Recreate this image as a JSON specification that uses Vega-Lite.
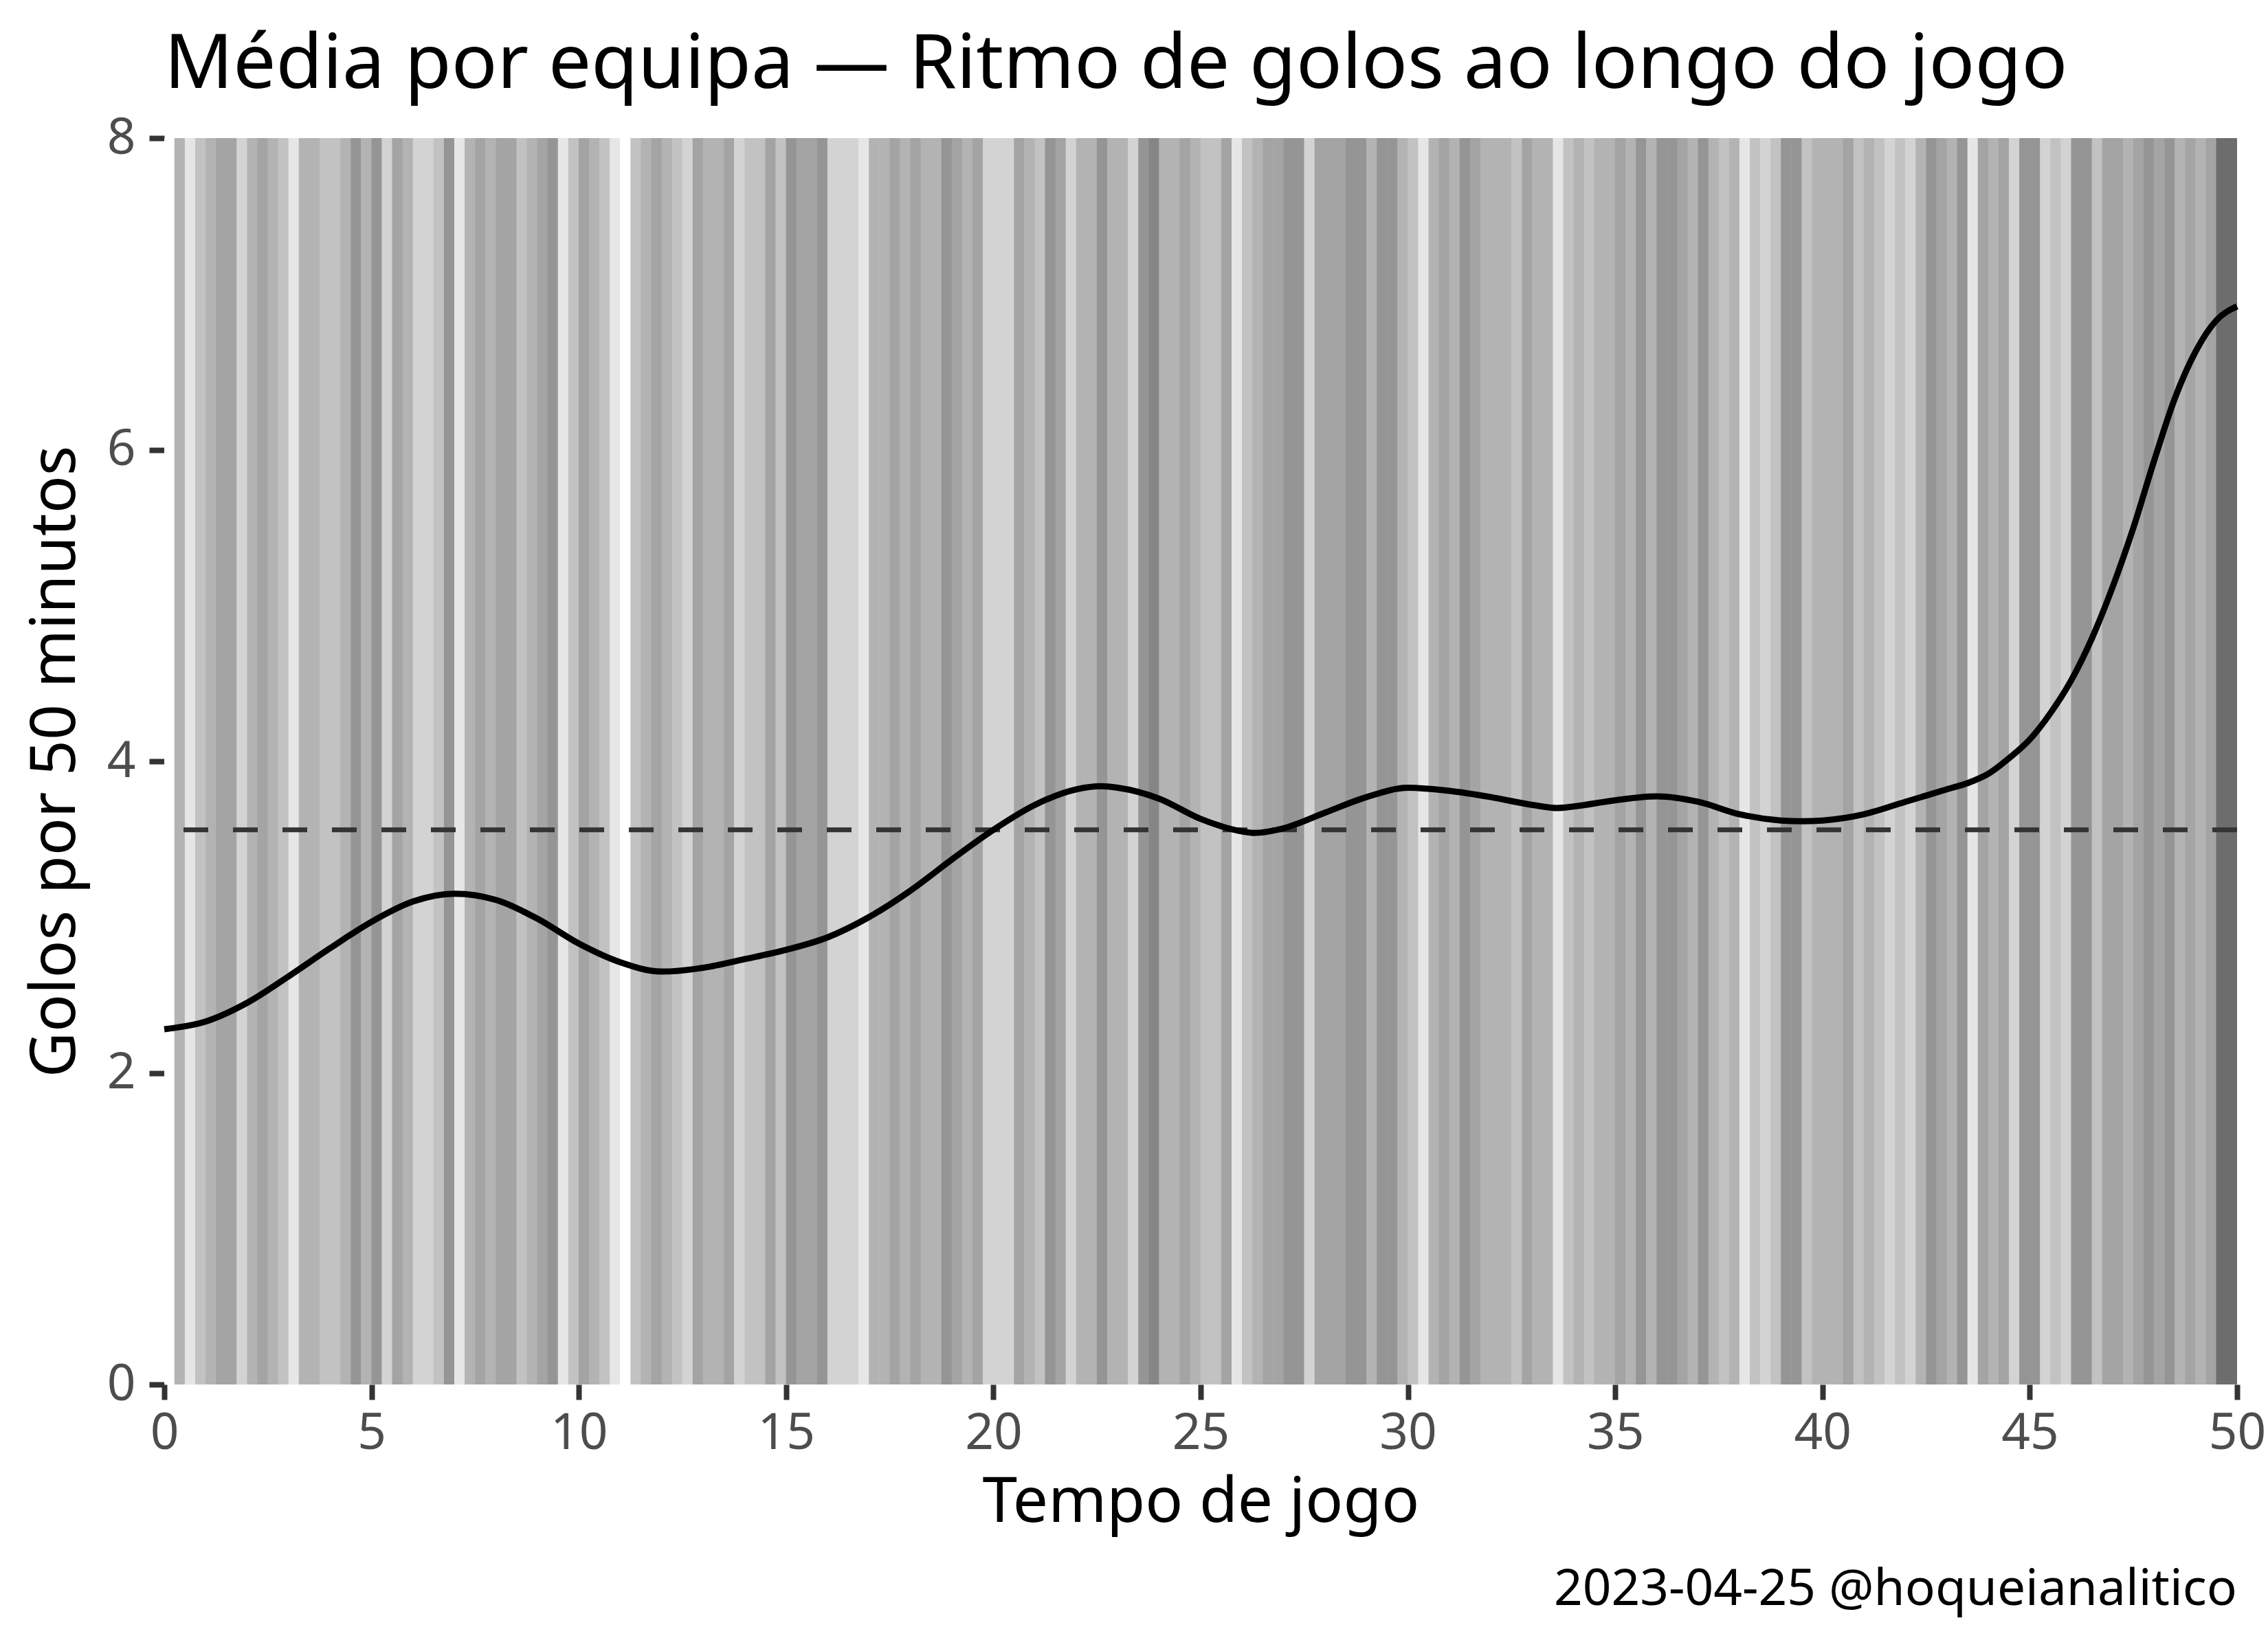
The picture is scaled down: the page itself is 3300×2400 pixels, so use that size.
{
  "$schema": "https://vega.github.io/schema/vega-lite/v6.json",
  "background": "white",
  "padding": {"left": 35, "top": 39, "right": 30, "bottom": 45},
  "config": {
    "font": "Noto Sans",
    "view": {"stroke": null},
    "axis": {
      "grid": false,
      "domain": false,
      "labelFlush": false,
      "tickColor": "#333333",
      "tickWidth": 8,
      "tickSize": 22,
      "labelFont": "Noto Sans",
      "labelFontSize": 73,
      "labelColor": "#4D4D4D",
      "titleFont": "Noto Sans",
      "titleFontSize": 91,
      "titleFontWeight": "normal",
      "titleColor": "#000000",
      "format": "d"
    },
    "axisX": {"labelPadding": 13, "titlePadding": 19},
    "axisY": {"labelPadding": 20, "titlePadding": 28}
  },
  "datasets": {
    "faixas": [
      {"minuto": 0.125, "golos": 0}, {"minuto": 0.375, "golos": 4}, {"minuto": 0.625, "golos": 1}, {"minuto": 0.875, "golos": 3},
      {"minuto": 1.125, "golos": 4}, {"minuto": 1.375, "golos": 5}, {"minuto": 1.625, "golos": 5}, {"minuto": 1.875, "golos": 2},
      {"minuto": 2.125, "golos": 4}, {"minuto": 2.375, "golos": 5}, {"minuto": 2.625, "golos": 4}, {"minuto": 2.875, "golos": 3},
      {"minuto": 3.125, "golos": 1}, {"minuto": 3.375, "golos": 4}, {"minuto": 3.625, "golos": 4}, {"minuto": 3.875, "golos": 3},
      {"minuto": 4.125, "golos": 3}, {"minuto": 4.375, "golos": 4}, {"minuto": 4.625, "golos": 6}, {"minuto": 4.875, "golos": 4},
      {"minuto": 5.125, "golos": 6}, {"minuto": 5.375, "golos": 2}, {"minuto": 5.625, "golos": 5}, {"minuto": 5.875, "golos": 4},
      {"minuto": 6.125, "golos": 2}, {"minuto": 6.375, "golos": 2}, {"minuto": 6.625, "golos": 3}, {"minuto": 6.875, "golos": 6},
      {"minuto": 7.125, "golos": 1}, {"minuto": 7.375, "golos": 4}, {"minuto": 7.625, "golos": 5}, {"minuto": 7.875, "golos": 4},
      {"minuto": 8.125, "golos": 5}, {"minuto": 8.375, "golos": 5}, {"minuto": 8.625, "golos": 3}, {"minuto": 8.875, "golos": 4},
      {"minuto": 9.125, "golos": 5}, {"minuto": 9.375, "golos": 6}, {"minuto": 9.625, "golos": 1}, {"minuto": 9.875, "golos": 3},
      {"minuto": 10.125, "golos": 5}, {"minuto": 10.375, "golos": 4}, {"minuto": 10.625, "golos": 3}, {"minuto": 10.875, "golos": 1},
      {"minuto": 11.125, "golos": 0}, {"minuto": 11.375, "golos": 3}, {"minuto": 11.625, "golos": 4}, {"minuto": 11.875, "golos": 5},
      {"minuto": 12.125, "golos": 4}, {"minuto": 12.375, "golos": 3}, {"minuto": 12.625, "golos": 2}, {"minuto": 12.875, "golos": 5},
      {"minuto": 13.125, "golos": 4}, {"minuto": 13.375, "golos": 4}, {"minuto": 13.625, "golos": 5}, {"minuto": 13.875, "golos": 2},
      {"minuto": 14.125, "golos": 3}, {"minuto": 14.375, "golos": 3}, {"minuto": 14.625, "golos": 5}, {"minuto": 14.875, "golos": 3},
      {"minuto": 15.125, "golos": 6}, {"minuto": 15.375, "golos": 5}, {"minuto": 15.625, "golos": 5}, {"minuto": 15.875, "golos": 6},
      {"minuto": 16.125, "golos": 2}, {"minuto": 16.375, "golos": 2}, {"minuto": 16.625, "golos": 2}, {"minuto": 16.875, "golos": 1},
      {"minuto": 17.125, "golos": 4}, {"minuto": 17.375, "golos": 4}, {"minuto": 17.625, "golos": 5}, {"minuto": 17.875, "golos": 4},
      {"minuto": 18.125, "golos": 5}, {"minuto": 18.375, "golos": 4}, {"minuto": 18.625, "golos": 4}, {"minuto": 18.875, "golos": 6},
      {"minuto": 19.125, "golos": 5}, {"minuto": 19.375, "golos": 4}, {"minuto": 19.625, "golos": 5}, {"minuto": 19.875, "golos": 2},
      {"minuto": 20.125, "golos": 2}, {"minuto": 20.375, "golos": 2}, {"minuto": 20.625, "golos": 5}, {"minuto": 20.875, "golos": 4},
      {"minuto": 21.125, "golos": 3}, {"minuto": 21.375, "golos": 6}, {"minuto": 21.625, "golos": 5}, {"minuto": 21.875, "golos": 2},
      {"minuto": 22.125, "golos": 4}, {"minuto": 22.375, "golos": 4}, {"minuto": 22.625, "golos": 6}, {"minuto": 22.875, "golos": 4},
      {"minuto": 23.125, "golos": 4}, {"minuto": 23.375, "golos": 2}, {"minuto": 23.625, "golos": 6}, {"minuto": 23.875, "golos": 7},
      {"minuto": 24.125, "golos": 4}, {"minuto": 24.375, "golos": 4}, {"minuto": 24.625, "golos": 5}, {"minuto": 24.875, "golos": 4},
      {"minuto": 25.125, "golos": 3}, {"minuto": 25.375, "golos": 3}, {"minuto": 25.625, "golos": 5}, {"minuto": 25.875, "golos": 1},
      {"minuto": 26.125, "golos": 3}, {"minuto": 26.375, "golos": 4}, {"minuto": 26.625, "golos": 5}, {"minuto": 26.875, "golos": 5},
      {"minuto": 27.125, "golos": 6}, {"minuto": 27.375, "golos": 6}, {"minuto": 27.625, "golos": 2}, {"minuto": 27.875, "golos": 5},
      {"minuto": 28.125, "golos": 5}, {"minuto": 28.375, "golos": 5}, {"minuto": 28.625, "golos": 6}, {"minuto": 28.875, "golos": 6},
      {"minuto": 29.125, "golos": 4}, {"minuto": 29.375, "golos": 6}, {"minuto": 29.625, "golos": 6}, {"minuto": 29.875, "golos": 4},
      {"minuto": 30.125, "golos": 3}, {"minuto": 30.375, "golos": 1}, {"minuto": 30.625, "golos": 4}, {"minuto": 30.875, "golos": 5},
      {"minuto": 31.125, "golos": 4}, {"minuto": 31.375, "golos": 6}, {"minuto": 31.625, "golos": 5}, {"minuto": 31.875, "golos": 4},
      {"minuto": 32.125, "golos": 4}, {"minuto": 32.375, "golos": 4}, {"minuto": 32.625, "golos": 3}, {"minuto": 32.875, "golos": 5},
      {"minuto": 33.125, "golos": 4}, {"minuto": 33.375, "golos": 4}, {"minuto": 33.625, "golos": 1}, {"minuto": 33.875, "golos": 3},
      {"minuto": 34.125, "golos": 4}, {"minuto": 34.375, "golos": 3}, {"minuto": 34.625, "golos": 4}, {"minuto": 34.875, "golos": 4},
      {"minuto": 35.125, "golos": 5}, {"minuto": 35.375, "golos": 4}, {"minuto": 35.625, "golos": 6}, {"minuto": 35.875, "golos": 4},
      {"minuto": 36.125, "golos": 6}, {"minuto": 36.375, "golos": 6}, {"minuto": 36.625, "golos": 5}, {"minuto": 36.875, "golos": 4},
      {"minuto": 37.125, "golos": 6}, {"minuto": 37.375, "golos": 4}, {"minuto": 37.625, "golos": 3}, {"minuto": 37.875, "golos": 4},
      {"minuto": 38.125, "golos": 1}, {"minuto": 38.375, "golos": 3}, {"minuto": 38.625, "golos": 2}, {"minuto": 38.875, "golos": 3},
      {"minuto": 39.125, "golos": 6}, {"minuto": 39.375, "golos": 6}, {"minuto": 39.625, "golos": 3}, {"minuto": 39.875, "golos": 4},
      {"minuto": 40.125, "golos": 4}, {"minuto": 40.375, "golos": 4}, {"minuto": 40.625, "golos": 5}, {"minuto": 40.875, "golos": 3},
      {"minuto": 41.125, "golos": 4}, {"minuto": 41.375, "golos": 3}, {"minuto": 41.625, "golos": 2}, {"minuto": 41.875, "golos": 3},
      {"minuto": 42.125, "golos": 2}, {"minuto": 42.375, "golos": 4}, {"minuto": 42.625, "golos": 6}, {"minuto": 42.875, "golos": 5},
      {"minuto": 43.125, "golos": 4}, {"minuto": 43.375, "golos": 6}, {"minuto": 43.625, "golos": 1}, {"minuto": 43.875, "golos": 5},
      {"minuto": 44.125, "golos": 4}, {"minuto": 44.375, "golos": 5}, {"minuto": 44.625, "golos": 2}, {"minuto": 44.875, "golos": 6},
      {"minuto": 45.125, "golos": 6}, {"minuto": 45.375, "golos": 2}, {"minuto": 45.625, "golos": 3}, {"minuto": 45.875, "golos": 2},
      {"minuto": 46.125, "golos": 6}, {"minuto": 46.375, "golos": 6}, {"minuto": 46.625, "golos": 3}, {"minuto": 46.875, "golos": 5},
      {"minuto": 47.125, "golos": 5}, {"minuto": 47.375, "golos": 4}, {"minuto": 47.625, "golos": 5}, {"minuto": 47.875, "golos": 6},
      {"minuto": 48.125, "golos": 5}, {"minuto": 48.375, "golos": 6}, {"minuto": 48.625, "golos": 4}, {"minuto": 48.875, "golos": 5},
      {"minuto": 49.125, "golos": 4}, {"minuto": 49.375, "golos": 5}, {"minuto": 49.625, "golos": 8}, {"minuto": 49.875, "golos": 8}
    ],
    "curva": [
      {"minuto": 0, "ritmo": 2.28}, {"minuto": 1, "ritmo": 2.33}, {"minuto": 2, "ritmo": 2.45}, {"minuto": 3, "ritmo": 2.62},
      {"minuto": 4, "ritmo": 2.8}, {"minuto": 5, "ritmo": 2.97}, {"minuto": 6, "ritmo": 3.1}, {"minuto": 7, "ritmo": 3.15},
      {"minuto": 8, "ritmo": 3.11}, {"minuto": 9, "ritmo": 2.99}, {"minuto": 10, "ritmo": 2.83}, {"minuto": 11, "ritmo": 2.71},
      {"minuto": 12, "ritmo": 2.65}, {"minuto": 13, "ritmo": 2.675}, {"minuto": 14, "ritmo": 2.73}, {"minuto": 15, "ritmo": 2.79},
      {"minuto": 16, "ritmo": 2.87}, {"minuto": 17, "ritmo": 3.0}, {"minuto": 18, "ritmo": 3.17}, {"minuto": 19, "ritmo": 3.37},
      {"minuto": 20, "ritmo": 3.56}, {"minuto": 21, "ritmo": 3.72}, {"minuto": 22, "ritmo": 3.82}, {"minuto": 22.6, "ritmo": 3.84},
      {"minuto": 23, "ritmo": 3.83}, {"minuto": 24, "ritmo": 3.76}, {"minuto": 25, "ritmo": 3.63}, {"minuto": 26, "ritmo": 3.55},
      {"minuto": 26.3, "ritmo": 3.54}, {"minuto": 27, "ritmo": 3.57}, {"minuto": 28, "ritmo": 3.67}, {"minuto": 29, "ritmo": 3.77},
      {"minuto": 30, "ritmo": 3.83}, {"minuto": 31, "ritmo": 3.81}, {"minuto": 32, "ritmo": 3.77}, {"minuto": 33, "ritmo": 3.72},
      {"minuto": 33.6, "ritmo": 3.7}, {"minuto": 34, "ritmo": 3.71}, {"minuto": 35, "ritmo": 3.75}, {"minuto": 36, "ritmo": 3.775},
      {"minuto": 37, "ritmo": 3.74}, {"minuto": 38, "ritmo": 3.66}, {"minuto": 39, "ritmo": 3.62}, {"minuto": 39.5, "ritmo": 3.615},
      {"minuto": 40, "ritmo": 3.62}, {"minuto": 41, "ritmo": 3.66}, {"minuto": 42, "ritmo": 3.74}, {"minuto": 43, "ritmo": 3.82},
      {"minuto": 43.5, "ritmo": 3.86}, {"minuto": 44, "ritmo": 3.92}, {"minuto": 44.5, "ritmo": 4.02}, {"minuto": 45, "ritmo": 4.14},
      {"minuto": 45.5, "ritmo": 4.31}, {"minuto": 46, "ritmo": 4.52}, {"minuto": 46.5, "ritmo": 4.79}, {"minuto": 47, "ritmo": 5.12},
      {"minuto": 47.5, "ritmo": 5.5}, {"minuto": 48, "ritmo": 5.93}, {"minuto": 48.5, "ritmo": 6.33}, {"minuto": 49, "ritmo": 6.63},
      {"minuto": 49.5, "ritmo": 6.83}, {"minuto": 50, "ritmo": 6.92}
    ],
    "media": [
      {"ritmo": 3.56}
    ]
  },
  "title": {
    "text": "2023-04-25 @hoqueianalitico",
    "orient": "bottom",
    "anchor": "end",
    "frame": "group",
    "baseline": "alphabetic",
    "offset": 104,
    "font": "Noto Sans",
    "fontSize": 73,
    "fontWeight": "normal",
    "color": "#000000"
  },
  "vconcat": [
    {
      "width": 3016,
      "height": 1814,
      "title": {
        "text": "Média por equipa — Ritmo de golos ao longo do jogo",
        "anchor": "start",
        "frame": "group",
        "baseline": "alphabetic",
        "offset": -73,
        "font": "Noto Sans",
        "fontSize": 110.5,
        "fontWeight": "normal",
        "color": "#000000"
      },
      "layer": [
        {
          "data": {"name": "faixas"},
          "mark": {"type": "rule", "strokeWidth": 15.6, "clip": true},
          "encoding": {
            "x": {
              "field": "minuto",
              "type": "quantitative",
              "scale": {"domain": [0, 50], "nice": false},
              "axis": {"values": [0, 5, 10, 15, 20, 25, 30, 35, 40, 45, 50]},
              "title": "Tempo de jogo"
            },
            "color": {
              "field": "golos",
              "type": "quantitative",
              "scale": {
                "domain": [0, 1, 2, 3, 4, 5, 6, 7, 8],
                "range": ["#ffffff", "#e6e6e6", "#d3d3d3", "#c2c2c2", "#b3b3b3", "#a4a4a4", "#959595", "#868686", "#6d6d6d"]
              },
              "legend": null
            }
          }
        },
        {
          "data": {"name": "media"},
          "mark": {"type": "rule", "strokeDash": [36, 36], "strokeWidth": 7, "color": "#333333"},
          "encoding": {
            "y": {
              "field": "ritmo",
              "type": "quantitative",
              "scale": {"domain": [0, 8], "nice": false},
              "title": "Golos por 50 minutos"
            }
          }
        },
        {
          "data": {"name": "curva"},
          "mark": {"type": "line", "color": "#000000", "strokeWidth": 9, "interpolate": "monotone"},
          "encoding": {
            "x": {
              "field": "minuto",
              "type": "quantitative",
              "scale": {"domain": [0, 50], "nice": false},
              "title": "Tempo de jogo"
            },
            "y": {
              "field": "ritmo",
              "type": "quantitative",
              "scale": {"domain": [0, 8], "nice": false},
              "axis": {"values": [0, 2, 4, 6, 8]},
              "title": "Golos por 50 minutos"
            }
          }
        }
      ]
    }
  ]
}
